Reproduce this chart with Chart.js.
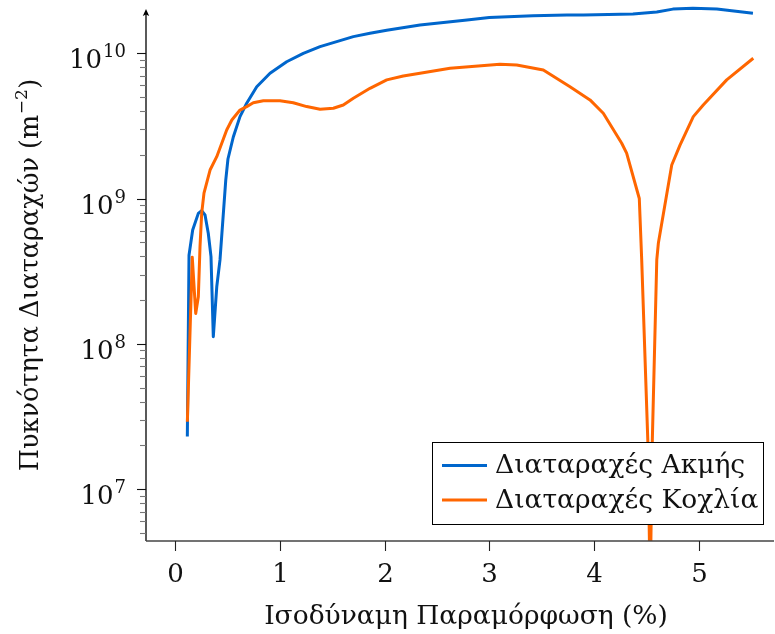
<!DOCTYPE html>
<html><head><meta charset="utf-8">
<script src="https://cdn.jsdelivr.net/npm/chart.js@4.4.0/dist/chart.umd.min.js"></script>
<style>html,body{margin:0;padding:0;background:#fff}#wrap{width:775px;height:634px;position:relative}</style>
</head><body><div id="wrap"><canvas id="c" width="775" height="634"></canvas></div>
<script>
// ---- data ----
const edgeStrain  = [0.115, 0.131, 0.166, 0.22, 0.252, 0.284, 0.315, 0.341, 0.363, 0.396, 0.427, 0.482, 0.503, 0.554, 0.618, 0.682, 0.778, 0.905, 1.064, 1.223, 1.383, 1.542, 1.701, 1.86, 2.02, 2.338, 2.787, 3.0, 3.417, 3.742, 3.90, 4.372, 4.60, 4.754, 4.945, 5.174, 5.519];
const edgeDensity = [2.3e7, 4.08e8, 6.07e8, 7.9e8, 8.24e8, 7.7e8, 5.77e8, 3.98e8, 1.12e8, 2.47e8, 3.78e8, 1.34e9, 1.87e9, 2.65e9, 3.66e9, 4.52e9, 5.87e9, 7.28e9, 8.73e9, 9.98e9, 1.11e10, 1.20e10, 1.30e10, 1.37e10, 1.44e10, 1.56e10, 1.69e10, 1.76e10, 1.81e10, 1.83e10, 1.83e10, 1.86e10, 1.92e10, 2.01e10, 2.04e10, 2.01e10, 1.88e10];
const screwStrain  = [0.115, 0.162, 0.195, 0.22, 0.236, 0.252, 0.274, 0.332, 0.396, 0.491, 0.54, 0.618, 0.682, 0.745, 0.841, 1.0, 1.127, 1.255, 1.383, 1.51, 1.605, 1.701, 1.86, 2.02, 2.178, 2.338, 2.625, 3.102, 3.262, 3.516, 3.771, 3.962, 4.089, 4.265, 4.312, 4.433, 4.456, 4.515, 4.537, 4.557, 4.60, 4.615, 4.743, 4.822, 4.949, 5.044, 5.268, 5.522];
const screwDensity = [2.91e7, 3.94e8, 1.62e8, 2.11e8, 4.66e8, 7.9e8, 1.09e9, 1.57e9, 1.94e9, 2.96e9, 3.47e9, 4.06e9, 4.29e9, 4.56e9, 4.71e9, 4.71e9, 4.56e9, 4.29e9, 4.11e9, 4.18e9, 4.40e9, 4.90e9, 5.73e9, 6.55e9, 6.97e9, 7.28e9, 7.87e9, 8.4e9, 8.3e9, 7.66e9, 5.88e9, 4.77e9, 3.86e9, 2.40e9, 2.05e9, 1.0e9, 3.78e8, 2.1e7, 2.0e6, 2.1e7, 3.78e8, 4.92e8, 1.70e9, 2.33e9, 3.66e9, 4.40e9, 6.55e9, 9.23e9];

const seriesLabels = ['Διαταραχές Ακμής', 'Διαταραχές Κοχλία'];
const seriesColors = ['#0066cc', '#ff6600'];
const xTickValues = [0, 1, 2, 3, 4, 5];
const xTickLabels = ['0', '1', '2', '3', '4', '5'];
const yMajorTicks = [1e7, 1e8, 1e9, 1e10];
const yTickBase = '10';
const yTickExponents = ['7', '8', '9', '10'];
const yMinorFactors = [2, 3, 4, 5, 6, 7, 8, 9];
const xTitle = 'Ισοδύναμη Παραμόρφωση (%)';
const yTitleMain = 'Πυκνότητα Διαταραχών (m';
const yTitleSup = '−2';
const yTitleEnd = ')';

const FONT = "'DejaVu Serif'";
const TICK = '26px ' + FONT, EXP = '18px ' + FONT, TITLE = '26.5px ' + FONT, YTITLE = '25.5px ' + FONT, SUP = '17px ' + FONT, LEG = '26.5px ' + FONT;

function pts(xs, ys) { return xs.map((x, i) => ({ x: x, y: ys[i] })); }

const decor = {
  id: 'decor',
  afterDraw(chart) {
    const ctx = chart.ctx, ca = chart.chartArea;
    const xs = chart.scales.x, ys = chart.scales.y;
    ctx.save();
    // y axis with arrow
    ctx.strokeStyle = '#000'; ctx.lineWidth = 1.3;
    ctx.beginPath(); ctx.moveTo(ca.left, ca.bottom); ctx.lineTo(ca.left, 12); ctx.stroke();
    ctx.fillStyle = '#000';
    ctx.beginPath(); ctx.moveTo(ca.left, 9); ctx.lineTo(ca.left - 3.2, 16); ctx.lineTo(ca.left, 14.5); ctx.lineTo(ca.left + 3.2, 16); ctx.closePath(); ctx.fill();
    // x axis
    ctx.strokeStyle = '#444'; ctx.lineWidth = 1.4;
    ctx.beginPath(); ctx.moveTo(ca.left, ca.bottom); ctx.lineTo(ca.right, ca.bottom); ctx.stroke();
    // x ticks + labels
    ctx.strokeStyle = '#222'; ctx.lineWidth = 1.1;
    ctx.fillStyle = '#111'; ctx.font = TICK; ctx.textAlign = 'center'; ctx.textBaseline = 'alphabetic';
    xTickValues.forEach((v, i) => {
      const px = Math.round(xs.getPixelForValue(v)) + 0.5;
      ctx.beginPath(); ctx.moveTo(px, ca.bottom); ctx.lineTo(px, ca.bottom + 10); ctx.stroke();
      ctx.fillText(xTickLabels[i], px, 582);
    });
    // y minor ticks
    ctx.strokeStyle = '#777'; ctx.lineWidth = 1.1;
    yMajorTicks.concat([1e6]).forEach(base => {
      yMinorFactors.forEach(f => {
        const v = base * f;
        if (v < ys.min || v > ys.max) return;
        const py = Math.round(ys.getPixelForValue(v)) + 0.5;
        ctx.beginPath(); ctx.moveTo(ca.left - 6, py); ctx.lineTo(ca.left, py); ctx.stroke();
      });
    });
    // y major ticks + labels
    ctx.strokeStyle = '#111';
    yMajorTicks.forEach((v, i) => {
      const py = Math.round(ys.getPixelForValue(v)) + 0.5;
      ctx.beginPath(); ctx.moveTo(ca.left - 9, py); ctx.lineTo(ca.left, py); ctx.stroke();
      const right = 126;
      ctx.textAlign = 'left';
      ctx.font = EXP;
      const ew = ctx.measureText(yTickExponents[i]).width;
      ctx.font = TICK;
      const mw = ctx.measureText(yTickBase).width;
      ctx.fillText(yTickBase, right - ew - mw - 1, py + 14);
      ctx.font = EXP;
      ctx.fillText(yTickExponents[i], right - ew, py + 3);
    });
    // x title
    ctx.font = TITLE; ctx.textAlign = 'center';
    ctx.fillText(xTitle, 466, 624);
    // y title rotated
    ctx.save();
    ctx.translate(38, 275); ctx.rotate(-Math.PI / 2);
    ctx.textAlign = 'left';
    ctx.font = YTITLE; const w1 = ctx.measureText(yTitleMain).width; const w3 = ctx.measureText(yTitleEnd).width;
    ctx.font = SUP; const w2 = ctx.measureText(yTitleSup).width;
    let u = -(w1 + w2 + w3 + 1) / 2;
    ctx.font = YTITLE; ctx.fillText(yTitleMain, u, 0); u += w1 + 0.5;
    ctx.font = SUP; ctx.fillText(yTitleSup, u, -11); u += w2 + 0.5;
    ctx.font = YTITLE; ctx.fillText(yTitleEnd, u, 0);
    ctx.restore();
    // legend box
    const bx = 432.5, by = 442.5, bw = 331, bh = 82;
    ctx.fillStyle = '#fff'; ctx.fillRect(bx, by, bw, bh);
    ctx.strokeStyle = '#000'; ctx.lineWidth = 1; ctx.strokeRect(bx, by, bw, bh);
    const rows = [465.5, 500];
    ctx.font = LEG; ctx.textAlign = 'left'; ctx.textBaseline = 'middle';
    chart.data.datasets.forEach((ds, i) => {
      ctx.strokeStyle = ds.borderColor; ctx.lineWidth = 3;
      ctx.beginPath(); ctx.moveTo(442, rows[i]); ctx.lineTo(487, rows[i]); ctx.stroke();
      ctx.fillStyle = '#111';
      ctx.fillText(ds.label, 495, rows[i] + 1);
    });
    ctx.restore();
  }
};

new Chart(document.getElementById('c'), {
  type: 'line',
  data: {
    datasets: [
      { label: seriesLabels[0], data: pts(edgeStrain, edgeDensity), borderColor: seriesColors[0], backgroundColor: seriesColors[0], borderWidth: 3, pointRadius: 0, tension: 0, borderJoinStyle: 'round', order: 1, clip: { left: 0, right: 0, bottom: 0, top: false } },
      { label: seriesLabels[1], data: pts(screwStrain, screwDensity), borderColor: seriesColors[1], backgroundColor: seriesColors[1], borderWidth: 3, pointRadius: 0, tension: 0, borderJoinStyle: 'round', order: 0, clip: { left: 0, right: 0, bottom: 0, top: false } }
    ]
  },
  options: {
    responsive: false, animation: false, devicePixelRatio: 1,
    layout: { padding: { left: 146, right: 1, top: 12, bottom: 93 } },
    plugins: { legend: { display: false }, tooltip: { enabled: false } },
    scales: {
      x: { type: 'linear', min: -0.28, max: 5.72, display: false },
      y: { type: 'logarithmic', min: 4.4e6, max: 1.92e10, display: false }
    }
  },
  plugins: [decor]
});
</script></body></html>
